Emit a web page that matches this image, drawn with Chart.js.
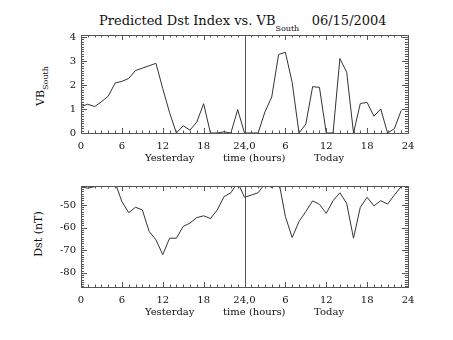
<!DOCTYPE html>
<html>
<head>
<meta charset="utf-8">
<script src="https://cdn.jsdelivr.net/npm/chart.js@4"></script>
<style>
  body { margin: 0; background: #fff; }
  #wrap { position: relative; width: 453px; height: 340px; font-family: 'DejaVu Serif', serif; color: #111; }
  canvas { position: absolute; left: 0; }
  #c1 { top: 0; }
  #c2 { top: 154px; }
  .lbl { position: absolute; white-space: nowrap; }
  .rot { transform: translate(-50%, -50%) rotate(-90deg); }
  sub { font-size: 8px; }
</style>
</head>
<body>
<div id="wrap">
  <div class="lbl" id="title" style="left:99px; top:13px; font-size:13px;">Predicted Dst Index vs. VB<sub style="font-size:8px; position:relative; top:2px;">South</sub>&nbsp;&nbsp;&nbsp;06/15/2004</div>
  <div class="lbl rot" style="left:42px; top:86px; font-size:11px;">VB<sub>South</sub></div>
  <div class="lbl rot" style="left:38px; top:234px; font-size:11px;">Dst (nT)</div>
  <canvas id="c1" width="453" height="170"></canvas>
  <canvas id="c2" width="453" height="170"></canvas>
</div>
<script>
// hour index, yesterday 0-23 then today 24-47
var hours = [0,1,2,3,4,5,6,7,8,9,10,11,12,13,14,15,16,17,18,19,20,21,22,23,
             24,25,26,27,28,29,30,31,32,33,34,35,36,37,38,39,40,41,42,43,44,45,46,47];
var vbSouth = [1.1,1.2,1.1,1.3,1.53,2.08,2.15,2.27,2.6,2.7,2.8,2.9,1.85,0.85,0,0.3,0.12,0.46,1.22,0,0,0.05,0,0.97,
               0,0,0,0.88,1.5,3.27,3.36,2.1,0,0.37,1.93,1.9,0,0,3.1,2.53,0,1.23,1.27,0.7,1.0,0,0.18,0.94];
var dst = [-41.9,-42.6,-41.9,-38,-37,-40,-48.5,-53.4,-51,-52.2,-61.7,-65.4,-72,-64.7,-64.7,-59.5,-58,-55.6,-54.8,-56,-52.2,-46.3,-44.6,-40,
           -46.6,-45.6,-44.6,-40.5,-42.3,-39,-55.1,-64.4,-57.3,-52.9,-48.2,-49.7,-53.7,-48.1,-44.6,-49.3,-64.7,-51,-46.6,-50.4,-48.1,-49.6,-45.6,-41.9];
var xTickLabels = {0:'0', 6:'6', 12:'12', 18:'18', 24:'24,0', 30:'6', 36:'12', 42:'18', 48:'24'};
var xTitle = 'Yesterday         time (hours)         Today';

var axisColor = '#555';
var lineColor = '#333';

// IDL style box with inward ticks on all four sides + separator at midnight
var idlAxes = {
  id: 'idlAxes',
  afterDatasetsDraw: function(chart, args, opts) {
    var ctx = chart.ctx, a = chart.chartArea;
    var xs = chart.scales.x, ys = chart.scales.y;
    ctx.save();
    ctx.strokeStyle = axisColor;
    ctx.lineWidth = 1;
    ctx.strokeRect(Math.round(a.left) + 0.5, Math.round(a.top) + 0.5, Math.round(a.right - a.left), Math.round(a.bottom - a.top));
    var sx = Math.round(xs.getPixelForValue(24)) + 0.5;
    ctx.beginPath();
    ctx.moveTo(sx, a.top); ctx.lineTo(sx, a.bottom);
    ctx.stroke();

    ctx.beginPath();
    for (var h = 0; h <= 48; h++) {
      var px = Math.round(xs.getPixelForValue(h)) + 0.5;
      var len = h % 6 === 0 ? 5 : 2.5;
      ctx.moveTo(px, a.bottom); ctx.lineTo(px, a.bottom - len);
      ctx.moveTo(px, a.top); ctx.lineTo(px, a.top + len);
    }
    var start = Math.ceil(ys.min / opts.yMinor);
    for (var i = start; i * opts.yMinor <= ys.max + 1e-9; i++) {
      var v = i * opts.yMinor;
      var py = Math.round(ys.getPixelForValue(v)) + 0.5;
      var major = Math.abs(v / opts.yMajor - Math.round(v / opts.yMajor)) < 1e-6;
      var l = major ? 6 : 3;
      ctx.moveTo(a.left, py); ctx.lineTo(a.left + l, py);
      ctx.moveTo(a.right, py); ctx.lineTo(a.right - l, py);
    }
    ctx.stroke();
    ctx.restore();
  }
};

function makeOptions(yMin, yMax, yStep, yMinor, topPad) {
  return {
    responsive: false,
    animation: false,
    layout: { padding: { top: topPad, right: 45, left: 0, bottom: 0 } },
    plugins: { legend: { display: false }, tooltip: { enabled: false }, idlAxes: { yMajor: yStep, yMinor: yMinor } },
    scales: {
      x: {
        type: 'linear', min: 0, max: 48,
        grid: { display: false, drawTicks: false },
        border: { display: false },
        afterFit: function(s) { s.height = 37; },
        afterBuildTicks: function(s) {
          s.ticks = Object.keys(xTickLabels).map(function(k) { return { value: +k }; });
        },
        ticks: {
          autoSkip: false, maxRotation: 0, padding: 7, color: '#111',
          font: { family: 'DejaVu Serif', size: 10 },
          callback: function(v) { return xTickLabels[v]; }
        },
        title: { display: true, text: xTitle, color: '#111', padding: { top: 0, bottom: 6 },
                 font: { family: 'DejaVu Serif', size: 10 } }
      },
      y: {
        min: yMin, max: yMax,
        grid: { display: false, drawTicks: false },
        border: { display: false },
        afterFit: function(s) { s.width = 81; },
        ticks: { stepSize: yStep, includeBounds: false, padding: 5, color: '#111',
                 font: { family: 'DejaVu Serif', size: 10 } }
      }
    }
  };
}

function points(ys) {
  return hours.map(function(h, i) { return { x: h, y: ys[i] }; });
}

new Chart(document.getElementById('c1'), {
  type: 'line',
  data: { datasets: [{ data: points(vbSouth), borderColor: lineColor, borderWidth: 1, pointRadius: 0, tension: 0 }] },
  options: makeOptions(0, 4.08, 1, 0.1, 35),
  plugins: [idlAxes]
});

new Chart(document.getElementById('c2'), {
  type: 'line',
  data: { datasets: [{ data: points(dst), borderColor: lineColor, borderWidth: 1, pointRadius: 0, tension: 0 }] },
  options: makeOptions(-86.3, -41.6, 10, 1, 32),
  plugins: [idlAxes]
});
</script>
</body>
</html>
